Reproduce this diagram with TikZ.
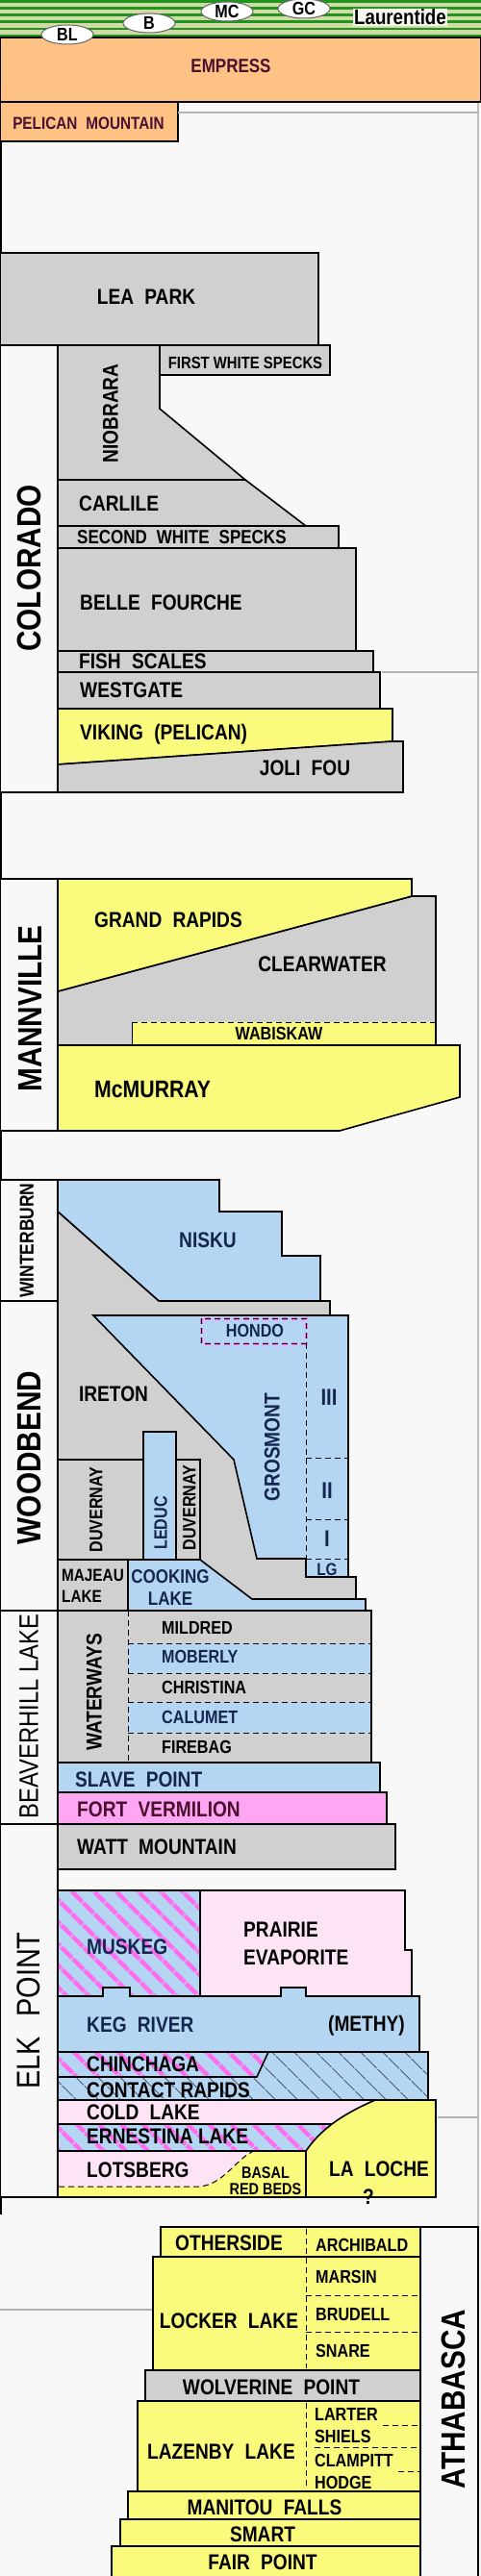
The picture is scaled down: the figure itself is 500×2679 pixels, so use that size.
\documentclass[tikz,border=0pt]{standalone}
\usepackage{fontspec}
\setmainfont{Liberation Sans}[FakeStretch=0.85]
\usepackage{tikz}
\usetikzlibrary{patterns.meta, shapes.geometric}
\definecolor{unitgray}{HTML}{D0D0D0}
\definecolor{unityel}{HTML}{FAFA7C}
\definecolor{unitblue}{HTML}{B4D6F2}
\definecolor{unitpink}{HTML}{FFA6F2}
\definecolor{unitrose}{HTML}{FCE4F4}
\definecolor{unitorange}{HTML}{FFC285}
\definecolor{stripegreen}{HTML}{1E961E}
\definecolor{palegreen}{HTML}{D2DAA6}
\definecolor{hatchpink}{HTML}{FF6CF0}
\definecolor{hatchgray}{HTML}{5A6A7A}
\definecolor{lblnavy}{HTML}{15254F}
\definecolor{lblmaroon}{HTML}{4A1030}
\definecolor{bgwhite}{HTML}{F8F8F8}
\newcommand{\wsp}{\hspace{0.5em}}
\tikzset{
  unit/.style={draw=black, line width=1.6pt},
  lbl/.style={font=\bfseries\fontsize{22.5}{24}\selectfont, inner sep=0pt},
  sublbl/.style={font=\bfseries\fontsize{19}{21}\selectfont, inner sep=0pt},
  grplbl/.style={font=\bfseries\fontsize{35}{36}\selectfont, rotate=90, inner sep=0pt},
  ellip/.style={ellipse, draw=gray!80!black, line width=1pt, fill=white,
    minimum width=54pt, minimum height=20pt, inner sep=0pt,
    font=\bfseries\fontsize{19}{20}\selectfont},
  memberdash/.style={draw=black, line width=1pt, dash pattern=on 6pt off 4pt},
  divider/.style={draw=gray!60, line width=1.2pt},
  pinkhatch/.style={preaction={fill=unitblue},
    pattern={Lines[angle=-45,distance=17pt,line width=5pt]}, pattern color=hatchpink},
  grayhatch/.style={preaction={fill=unitblue},
    pattern={Lines[angle=-45,distance=17pt,line width=1pt]}, pattern color=hatchgray}
}
\begin{document}
\begin{tikzpicture}[x=1pt, y=-1pt, line join=miter]
\useasboundingbox (0,0) rectangle (500,2679);
\fill[bgwhite] (0,0) rectangle (500,2679);
% frame
\draw[black, line width=1.5pt] (1,0) -- (1,2303);
\draw[gray!50, line width=1.2pt] (497,0) -- (497,2679);

% ---- Laurentide stripes
\fill[palegreen] (0,0) rectangle (500,39);
\foreach \yy in {1.5,8.5,15.5,22.5,30,37}
  \draw[stripegreen, line width=2.6pt] (0,\yy) -- (500,\yy);
\node[font=\bfseries\fontsize{22}{23}\selectfont, fill=white!80!palegreen,
      inner sep=1pt] (laurentide) at (416,18) {Laurentide};

% ---- Empress / Pelican Mountain
\filldraw[unit, fill=unitorange] (0,39) rectangle (500,106);
\node[ellip] (bl) at (70,36) {BL};
\node[ellip] (b) at (155,24) {B};
\node[ellip] (mc) at (236,12) {MC};
\node[ellip] (gc) at (316,9) {GC};
\node[lbl, font=\bfseries\fontsize{20}{21}\selectfont, text=lblmaroon]
  (empress) at (240,69) {EMPRESS};
\filldraw[unit, fill=unitorange] (0,106) rectangle (185,147);
\node[lbl, font=\bfseries\fontsize{18}{19}\selectfont, text=lblmaroon]
  (pelican) at (92,128) {PELICAN\wsp MOUNTAIN};
\draw[divider] (185,117) -- (497,117);

% ---- Colorado
\filldraw[unit, fill=bgwhite] (0,359) rectangle (60,824);
\filldraw[unit, fill=unitgray] (0,263) rectangle (331,359);
\node[lbl] (leapark) at (152,309) {LEA\wsp PARK};
\filldraw[unit, fill=unitgray] (166,359) rectangle (343,390);
\node[lbl, font=\bfseries\fontsize{17.5}{19}\selectfont] (fws) at (255,377) {FIRST WHITE SPECKS};
\filldraw[unit, fill=unitgray] (60,359) -- (166,359) -- (166,425) -- (255,499)
  -- (60,499) -- cycle;
\node[lbl, rotate=90] (niobrara) at (115,430) {NIOBRARA};
\filldraw[unit, fill=unitgray] (60,499) -- (255,499) -- (318,547) -- (60,547) -- cycle;
\node[lbl, anchor=west] (carlile) at (82,524) {CARLILE};
\filldraw[unit, fill=unitgray] (60,547) rectangle (352,570);
\node[lbl, font=\bfseries\fontsize{20}{21}\selectfont, anchor=west]
  (sws) at (80,559) {SECOND\wsp WHITE\wsp SPECKS};
\filldraw[unit, fill=unitgray] (60,570) rectangle (370,677);
\node[lbl, anchor=west] (bellef) at (83,627) {BELLE\wsp FOURCHE};
\filldraw[unit, fill=unitgray] (60,677) rectangle (388,699);
\node[lbl, anchor=west] (fish) at (82,688) {FISH\wsp SCALES};
\filldraw[unit, fill=unitgray] (60,699) rectangle (395,737);
\node[lbl, anchor=west] (westgate) at (83,718) {WESTGATE};
\draw[divider] (397,699) -- (497,699);
\filldraw[unit, fill=unityel] (60,737) -- (408,737) -- (408,771) -- (60,795) -- cycle;
\node[lbl, anchor=west] (viking) at (83,764) {VIKING\wsp (PELICAN)};
\filldraw[unit, fill=unitgray] (60,795) -- (408,771) -- (419,771) -- (419,824)
  -- (60,824) -- cycle;
\node[lbl] (jolifou) at (317,799) {JOLI\wsp FOU};
\node[grplbl] (colorado) at (30,591) {COLORADO};

% ---- Mannville
\filldraw[unit, fill=bgwhite] (0,914) rectangle (60,1176);
\filldraw[unit, fill=unitgray] (60,1031) -- (428,932) -- (453,932) -- (453,1087)
  -- (60,1087) -- cycle;
\filldraw[unit, fill=unityel] (60,914) -- (428,914) -- (428,932) -- (60,1031) -- cycle;
\node[lbl, anchor=west] (grandrapids) at (98,957) {GRAND\wsp RAPIDS};
\node[lbl] (clearwater) at (335,1003) {CLEARWATER};
\fill[unityel] (137,1063) rectangle (452,1087);
\draw[memberdash] (137,1063) -- (452,1063);
\draw[black, line width=1pt] (137,1063) -- (137,1087);
\node[sublbl] (wabiskaw) at (290,1075) {WABISKAW};
\filldraw[unit, fill=unityel] (60,1087) -- (478,1087) -- (478,1141) -- (353,1176)
  -- (60,1176) -- cycle;
\node[lbl, font=\bfseries\fontsize{25}{26}\selectfont, anchor=west]
  (mcmurray) at (98,1133) {McMURRAY};
\node[grplbl] (mannville) at (31,1049) {MANNVILLE};

% ---- Winterburn / Woodbend
\filldraw[unit, fill=bgwhite] (0,1227) rectangle (60,1353);
\filldraw[unit, fill=bgwhite] (0,1353) rectangle (60,1675);
\filldraw[unit, fill=unitblue] (60,1227) -- (228,1227) -- (228,1260) -- (293,1260)
  -- (293,1306) -- (333,1306) -- (333,1353) -- (165,1353) -- (60,1260) -- cycle;
\node[lbl, text=lblnavy] (nisku) at (216,1290) {NISKU};
\filldraw[unit, fill=unitgray] (60,1260) -- (165,1353) -- (343,1353) -- (343,1368)
  -- (362,1368) -- (362,1640) -- (370,1640) -- (370,1663) -- (60,1663) -- cycle;
\node[lbl] (ireton) at (118,1450) {IRETON};
\filldraw[unit, fill=unitblue] (97,1368) -- (362,1368) -- (362,1640) -- (318,1640)
  -- (318,1621) -- (267,1621) -- (243,1518) -- cycle;
\filldraw[fill=unitblue, draw=hatchpink, line width=3pt, dash pattern=on 6pt off 4pt]
  (209,1371) rectangle (318,1397);
\draw[memberdash] (209,1371) rectangle (318,1397);
\node[sublbl, text=lblnavy] (hondo) at (265,1384) {HONDO};
\draw[memberdash] (318,1397) -- (318,1621);
\draw[memberdash] (318,1516) -- (362,1516);
\draw[memberdash] (318,1580) -- (362,1580);
\draw[memberdash] (318,1621) -- (362,1621);
\node[lbl, rotate=90, text=lblnavy] (grosmont) at (283,1505) {GROSMONT};
\node[lbl, font=\bfseries\fontsize{24}{25}\selectfont, text=lblnavy] (mIII) at (342,1453) {III};
\node[lbl, font=\bfseries\fontsize{24}{25}\selectfont, text=lblnavy] (mII) at (340,1550) {II};
\node[lbl, font=\bfseries\fontsize{24}{25}\selectfont, text=lblnavy] (mI) at (340,1600) {I};
\node[sublbl, font=\bfseries\fontsize{18}{19}\selectfont, text=lblnavy] (lg) at (340,1632) {LG};
\filldraw[unit, fill=unitgray] (60,1518) rectangle (149,1622);
\node[sublbl, rotate=90] (duvernayl) at (100,1570) {DUVERNAY};
\filldraw[unit, fill=unitblue] (149,1489) rectangle (183,1622);
\node[sublbl, rotate=90, text=lblnavy] (leduc) at (167,1584) {LEDUC};
\filldraw[unit, fill=unitgray] (183,1518) rectangle (208,1622);
\node[sublbl, rotate=90] (duvernayr) at (197,1568) {DUVERNAY};
\filldraw[unit, fill=unitgray] (60,1622) rectangle (133,1675);
\node[sublbl, align=left, anchor=west, font=\bfseries\fontsize{18}{22}\selectfont]
  (majeau) at (64,1649) {MAJEAU\\LAKE};
\filldraw[unit, fill=unitblue] (133,1622) -- (208,1622) -- (262,1663) -- (380,1663)
  -- (380,1675) -- (133,1675) -- cycle;
\node[sublbl, align=center, text=lblnavy, font=\bfseries\fontsize{20}{23}\selectfont]
  (cooking) at (177,1651) {COOKING\\LAKE};
\node[lbl, font=\bfseries\fontsize{20.5}{21}\selectfont, rotate=90] (winterburn) at (28,1290) {WINTERBURN};
\node[grplbl] (woodbend) at (30,1516) {WOODBEND};

% ---- Beaverhill Lake
\filldraw[unit, fill=bgwhite] (0,1675) rectangle (60,1897);
\fill[unitgray] (60,1675) rectangle (386,1833);
\fill[unitblue] (133,1709) rectangle (386,1740);
\fill[unitblue] (133,1770) rectangle (386,1802);
\foreach \yy in {1709,1740,1770,1802}
  \draw[memberdash] (133,\yy) -- (386,\yy);
\draw[memberdash] (133,1675) -- (133,1833);
\draw[unit] (60,1675) rectangle (386,1833);
\node[lbl, rotate=90] (waterways) at (98,1760) {WATERWAYS};
\node[sublbl, anchor=west] (mildred) at (168,1693) {MILDRED};
\node[sublbl, anchor=west, text=lblnavy] (moberly) at (168,1723) {MOBERLY};
\node[sublbl, anchor=west] (christina) at (168,1755) {CHRISTINA};
\node[sublbl, anchor=west, text=lblnavy] (calumet) at (168,1786) {CALUMET};
\node[sublbl, anchor=west] (firebag) at (168,1817) {FIREBAG};
\filldraw[unit, fill=unitblue] (60,1833) rectangle (395,1864);
\node[lbl, anchor=west, text=lblnavy] (slave) at (78,1851) {SLAVE\wsp POINT};
\filldraw[unit, fill=unitpink] (60,1864) rectangle (402,1897);
\node[lbl, anchor=west, text=lblmaroon] (fortverm) at (80,1882) {FORT\wsp VERMILION};
\node[font=\fontsize{28}{29}\selectfont, rotate=90, inner sep=0pt] (beaverhill) at (30,1785) {BEAVERHILL LAKE};

% ---- Elk Point
\filldraw[unit, fill=bgwhite] (0,1897) rectangle (60,2285);
\filldraw[unit, fill=unitgray] (60,1897) rectangle (411,1944);
\node[lbl, anchor=west] (watt) at (80,1921) {WATT\wsp MOUNTAIN};
\draw[unit] (60,1944) -- (60,1966);
\draw[unit, pinkhatch] (60,1966) rectangle (208,2076);
\node[lbl, anchor=west, text=lblnavy] (muskeg) at (90,2025) {MUSKEG};
\filldraw[unit, fill=unitrose] (208,1966) -- (421,1966) -- (421,2028) -- (428,2028)
  -- (428,2076) -- (208,2076) -- cycle;
\node[lbl, align=left, anchor=west, font=\bfseries\fontsize{22.5}{29}\selectfont]
  (prairie) at (253,2021) {PRAIRIE\\EVAPORITE};
\filldraw[unit, fill=unitblue] (60,2076) -- (107,2076) -- (107,2067) -- (135,2067)
  -- (135,2076) -- (292,2076) -- (292,2067) -- (318,2067) -- (318,2076) -- (436,2076)
  -- (436,2134) -- (60,2134) -- cycle;
\node[lbl, anchor=west, text=lblnavy] (kegriver) at (90,2106) {KEG\wsp RIVER};
\node[lbl] (methy) at (381,2107) {(METHY)};
\draw[unit, grayhatch] (60,2134) rectangle (445,2184);
\draw[unit, pinkhatch] (60,2134) -- (279,2134) -- (267,2160) -- (60,2160) -- cycle;
\node[lbl, anchor=west] (chinchaga) at (90,2147) {CHINCHAGA};
\node[lbl, anchor=west] (contact) at (90,2174) {CONTACT RAPIDS};
\filldraw[unit, fill=unitrose] (60,2184) rectangle (453,2209);
\node[lbl, anchor=west] (coldlake) at (90,2197) {COLD\wsp LAKE};
\draw[unit, pinkhatch] (60,2209) rectangle (453,2237);
\node[lbl, anchor=west] (ernestina) at (90,2222) {ERNESTINA LAKE};
\filldraw[unit, fill=unitrose] (60,2237) rectangle (318,2285);
\node[lbl, anchor=west] (lotsberg) at (90,2257) {LOTSBERG};
\fill[unityel] (61,2285) -- (61,2274) -- (207,2274) .. controls (232,2272) and (245,2246)
  .. (262,2238) -- (318,2238) -- (318,2285) -- cycle;
\draw[memberdash] (61,2274) -- (207,2274) .. controls (232,2272) and (245,2246) .. (262,2238);
\node[font=\bfseries\fontsize{17}{17}\selectfont, align=center, inner sep=0pt]
  (basal) at (276,2268) {BASAL\\RED BEDS};
\filldraw[unit, fill=unityel] (390,2184) -- (453,2184) -- (453,2285) -- (318,2285)
  -- (318,2237) .. controls (335,2212) and (360,2197) .. (390,2184) -- cycle;
\node[lbl] (laloche) at (394,2256) {LA\wsp LOCHE};
\node[lbl] (query) at (383,2285) {?};
\draw[unit] (60,2285) -- (453,2285);
\draw[divider] (455,2202) -- (497,2202);
\node[font=\fontsize{34}{35}\selectfont, rotate=90, inner sep=0pt] (elkpoint) at (30,2091)
  {ELK\hspace{0.6em}POINT};

% ---- Athabasca
\draw[divider] (0,2402) -- (159,2402);
\filldraw[unit, fill=bgwhite] (437,2316) rectangle (497,2682);
\filldraw[unit, fill=unityel] (167,2316) rectangle (437,2347);
\node[lbl] (otherside) at (238,2333) {OTHERSIDE};
\node[sublbl, anchor=west] (archibald) at (328,2335) {ARCHIBALD};
\filldraw[unit, fill=unityel] (159,2347) rectangle (437,2465);
\node[lbl] (lockerlake) at (238,2414) {LOCKER\wsp LAKE};
\node[sublbl, anchor=west] (marsin) at (328,2368) {MARSIN};
\node[sublbl, anchor=west] (brudell) at (328,2407) {BRUDELL};
\node[sublbl, anchor=west] (snare) at (328,2445) {SNARE};
\draw[memberdash] (318,2318) -- (318,2463);
\draw[memberdash] (318,2387) -- (437,2387);
\draw[memberdash] (318,2425) -- (437,2425);
\filldraw[unit, fill=unitgray] (151,2465) rectangle (437,2497);
\node[lbl] (wolverine) at (282,2483) {WOLVERINE\wsp POINT};
\filldraw[unit, fill=unityel] (143,2497) rectangle (437,2591);
\node[lbl] (lazenby) at (230,2550) {LAZENBY\wsp LAKE};
\node[sublbl, anchor=west] (larter) at (327,2511) {LARTER};
\node[sublbl, anchor=west] (shiels) at (327,2534) {SHIELS};
\node[sublbl, anchor=west] (clampitt) at (327,2559) {CLAMPITT};
\node[sublbl, anchor=west] (hodge) at (327,2582) {HODGE};
\draw[memberdash] (318,2499) -- (318,2589);
\draw[memberdash] (398,2522) -- (437,2522);
\draw[memberdash] (327,2545) -- (437,2545);
\draw[memberdash] (414,2570) -- (437,2570);
\filldraw[unit, fill=unityel] (133,2591) rectangle (437,2620);
\node[lbl] (manitou) at (275,2608) {MANITOU\wsp FALLS};
\filldraw[unit, fill=unityel] (125,2620) rectangle (437,2648);
\node[lbl] (smart) at (273,2636) {SMART};
\filldraw[unit, fill=unityel] (116,2648) rectangle (437,2682);
\node[lbl] (fairpoint) at (273,2665) {FAIR\wsp POINT};
\node[grplbl] (athabasca) at (471,2495) {ATHABASCA};
\end{tikzpicture}
\end{document}
